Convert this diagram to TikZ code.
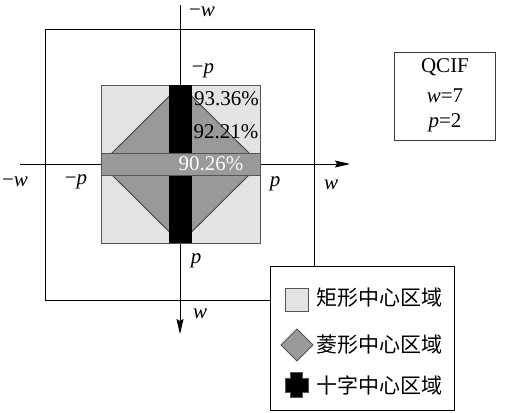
\documentclass[tikz,border=0pt]{standalone}
\usepackage{fontspec}
\setmainfont{Liberation Serif}
\newfontfamily\cjk{Noto Sans CJK SC}
\usetikzlibrary{arrows.meta}
\definecolor{lightg}{HTML}{E3E3E3}
\definecolor{midg}{HTML}{999999}
\definecolor{edgeg}{HTML}{555555}
\tikzset{
  axis/.style={line width=0.9pt, -{Stealth[length=15pt,width=7pt,inset=2pt]}},
  frame/.style={line width=0.9pt, draw=black},
  lbl/.style={inner sep=0pt, font=\fontsize{21}{24}\selectfont},
  pct/.style={inner sep=0pt, font=\fontsize{21}{24}\selectfont},
  legtext/.style={inner sep=0pt, anchor=west, font=\cjk\fontsize{21}{24}\selectfont},
}
\begin{document}
\begin{tikzpicture}[x=1pt,y=-1pt]
\useasboundingbox (0,0) rectangle (505,412);
\fill[white] (0,0) rectangle (505,412);
% axes
\coordinate (ytop) at (180,5);
\coordinate (ybot) at (180,334);
\coordinate (xl) at (20,164);
\coordinate (xr) at (350,164);
\draw[axis] (xl) -- (xr);
\draw[axis] (ytop) -- (ybot);
% outer square
\draw[frame] (45,29) rectangle (314,300);
% light square
\draw[line width=0.9pt, draw=edgeg, fill=lightg] (101,85) rectangle (260,243);
% diamond
\draw[line width=0.9pt, draw=edgeg!80!black, fill=midg] (180.5,85) -- (260,164) -- (180.5,243) -- (101,164) -- cycle;
% black vertical bar
\fill[black] (169,85) rectangle (192,243);
% gray horizontal bar
\draw[line width=0.9pt, draw=edgeg, fill=midg] (101,153) rectangle (260,175);
% axis labels
\node[lbl] (mwtop) at (202,12) {−\textit{w}};
\node[lbl] (mptop) at (203,71) {−\textit{p}};
\node[lbl] (mwl) at (15,182) {−\textit{w}};
\node[lbl] (mpl) at (76,182) {−\textit{p}};
\node[lbl] (pr) at (275,184) {\textit{p}};
\node[lbl] (wr) at (331,185) {\textit{w}};
\node[lbl] (pb) at (196,261) {\textit{p}};
\node[lbl] (wb) at (200,314) {\textit{w}};
% percentages
\node[pct] (p1) at (226.5,99) {93.36\%};
\node[pct] (p2) at (226,132) {92.21\%};
\node[pct, text=white] (p3) at (211,164) {90.26\%};
% QCIF box
\draw[frame, draw=edgeg!70!black] (394,52) rectangle (495,140);
\node[lbl] (q1) at (445,67) {QCIF};
\node[lbl] (q2) at (445,96) {\textit{w}=7};
\node[lbl] (q3) at (445,123) {\textit{p}=2};
% legend
\draw[frame, fill=white] (270,266) rectangle (454,410);
\draw[line width=0.9pt, draw=edgeg, fill=lightg] (285,288) rectangle (308,311);
\node[legtext] (l1) at (316,298) {矩形中心区域};
\draw[line width=0.9pt, draw=edgeg, fill=midg] (281,345) -- (297,329) -- (313,345) -- (297,361) -- cycle;
\node[legtext] (l2) at (316,345) {菱形中心区域};
\draw[line width=0.6pt, draw=edgeg, fill=black]
  (290,372) -- (302,372) -- (302,378) -- (308,378) -- (308,392) -- (302,392) -- (302,397)
  -- (290,397) -- (290,392) -- (285,392) -- (285,378) -- (290,378) -- cycle;
\node[legtext] (l3) at (316,385) {十字中心区域};
\end{tikzpicture}
\end{document}
